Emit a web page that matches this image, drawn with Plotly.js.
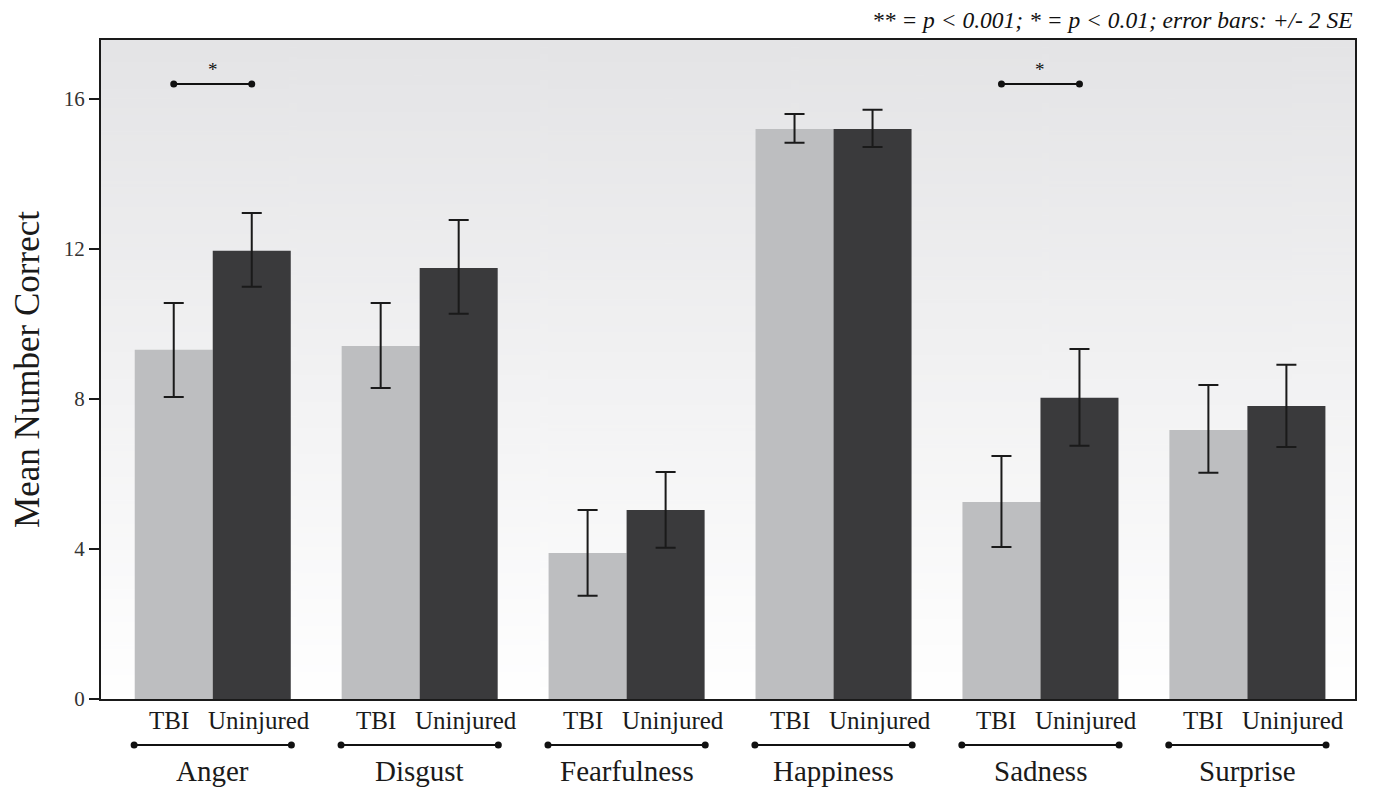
<!DOCTYPE html>
<html>
<head>
<meta charset="utf-8">
<script src="https://cdn.plot.ly/plotly-3.0.1.min.js"></script>
<style>html,body{margin:0;padding:0;background:#fff;}#chart{width:1373px;height:791px;}</style>
</head>
<body>
<div id="chart"></div>
<script>
const categories = ["Anger", "Disgust", "Fearfulness", "Happiness", "Sadness", "Surprise"];
const groupLabels = ["TBI", "Uninjured"];
const tbiMean = [9.31, 9.41, 3.89, 15.2, 5.25, 7.17];
const tbiUpper = [10.56, 10.56, 5.04, 15.6, 6.48, 8.37];
const tbiLower = [8.05, 8.29, 2.75, 14.83, 4.05, 6.03];
const uninjMean = [11.95, 11.49, 5.04, 15.2, 8.03, 7.81];
const uninjUpper = [12.96, 12.77, 6.05, 15.71, 9.33, 8.91];
const uninjLower = [10.99, 10.27, 4.03, 14.72, 6.75, 6.72];
const sigCategories = ["Anger", "Sadness"];
const sigLabels = ["*", "*"];
const sigY = 16.4;
const yTicks = [0, 4, 8, 12, 16];

const serif = "'Liberation Serif', 'DejaVu Serif', serif";
const off = 0.1885;

const cv = document.createElement("canvas");
cv.width = 10; cv.height = 400;
const ctx = cv.getContext("2d");
const g = ctx.createLinearGradient(0, 0, 0, 400);
g.addColorStop(0, "#e4e4e6");
g.addColorStop(1, "#ffffff");
ctx.fillStyle = g; ctx.fillRect(0, 0, 10, 400);
const bgURL = cv.toDataURL();

const errStyle = {type: "data", symmetric: false, color: "#1a1a1a", thickness: 2, width: 10};

const traces = [
  {
    type: "bar", name: groupLabels[0], x: categories, y: tbiMean,
    marker: {color: "#bdbec0"},
    error_y: Object.assign({}, errStyle, {
      array: tbiUpper.map((v, i) => v - tbiMean[i]),
      arrayminus: tbiMean.map((v, i) => v - tbiLower[i])
    }),
    hoverinfo: "x+y"
  },
  {
    type: "bar", name: groupLabels[1], x: categories, y: uninjMean,
    marker: {color: "#3a3a3c"},
    error_y: Object.assign({}, errStyle, {
      array: uninjUpper.map((v, i) => v - uninjMean[i]),
      arrayminus: uninjMean.map((v, i) => v - uninjLower[i])
    }),
    hoverinfo: "x+y"
  }
];

const plotH = 659;
const shapes = [];
const annotations = [];
function dot(xv, yv, yref) {
  shapes.push({type: "circle", xref: "x", yref: yref, xsizemode: "pixel", ysizemode: "pixel",
    xanchor: xv, yanchor: yv, x0: -3.5, x1: 3.5, y0: -3.5, y1: 3.5,
    fillcolor: "#111", line: {width: 0}});
}
categories.forEach((c, i) => {
  annotations.push({x: i - off, xshift: -5, y: -21 / plotH, xref: "x", yref: "paper", text: groupLabels[0],
    showarrow: false, yanchor: "middle", font: {family: serif, size: 25, color: "#1a1a1a"}});
  annotations.push({x: i + off, xshift: 7, y: -21 / plotH, xref: "x", yref: "paper", text: groupLabels[1],
    showarrow: false, yanchor: "middle", font: {family: serif, size: 25, color: "#1a1a1a"}});
  annotations.push({x: i, y: -72 / plotH, xref: "x", yref: "paper", text: c,
    showarrow: false, yanchor: "middle", font: {family: serif, size: 29, color: "#1a1a1a"}});
  const ly = -46 / plotH;
  shapes.push({type: "line", xref: "x", yref: "paper", x0: i - 0.38, x1: i + 0.38, y0: ly, y1: ly,
    line: {color: "#111", width: 2}});
  dot(i - 0.38, ly, "paper"); dot(i + 0.38, ly, "paper");
});
sigCategories.forEach((c, k) => {
  const i = categories.indexOf(c);
  shapes.push({type: "line", xref: "x", yref: "y", x0: i - off, x1: i + off, y0: sigY, y1: sigY,
    line: {color: "#111", width: 2}});
  dot(i - off, sigY, "y"); dot(i + off, sigY, "y");
  annotations.push({x: i, y: sigY, xref: "x", yref: "y", text: sigLabels[k], showarrow: false,
    yanchor: "bottom", yshift: 2, font: {family: serif, size: 19, color: "#111"}});
});
annotations.push({x: 1, y: 1 + 20 / plotH, xref: "paper", yref: "paper", xanchor: "right", yanchor: "middle",
  text: "<i>** = p < 0.001; * = p < 0.01; error bars: +/- 2 SE</i>", showarrow: false,
  font: {family: serif, size: 23.5, color: "#111"}});

const layout = {
  width: 1373, height: 791,
  margin: {l: 101, r: 18, t: 40, b: 92},
  paper_bgcolor: "#ffffff",
  plot_bgcolor: "rgba(0,0,0,0)",
  barmode: "group", bargap: 0.246, bargroupgap: 0,
  showlegend: false,
  font: {family: serif},
  images: [{source: bgURL, xref: "paper", yref: "paper", x: 0, y: 1, sizex: 1, sizey: 1,
    sizing: "stretch", xanchor: "left", yanchor: "top", layer: "below"}],
  xaxis: {type: "category", range: [-0.54, 5.52], showticklabels: false, ticks: "",
    showline: true, linecolor: "#1a1a1a", linewidth: 2, mirror: true, showgrid: false, zeroline: false},
  yaxis: {range: [0, 17.57], tickvals: yTicks, ticktext: yTicks.map(String), ticks: "outside", ticklen: 10,
    tickwidth: 2, tickcolor: "#1a1a1a", showline: true, linecolor: "#1a1a1a", linewidth: 2, mirror: true,
    showgrid: false, zeroline: false, tickfont: {family: serif, size: 21, color: "#333"},
    title: {text: "Mean Number Correct", font: {family: serif, size: 35, color: "#1a1a1a"}, standoff: 14}},
  shapes: shapes,
  annotations: annotations
};

Plotly.newPlot("chart", traces, layout, {displayModeBar: false, responsive: false});
</script>
</body>
</html>
